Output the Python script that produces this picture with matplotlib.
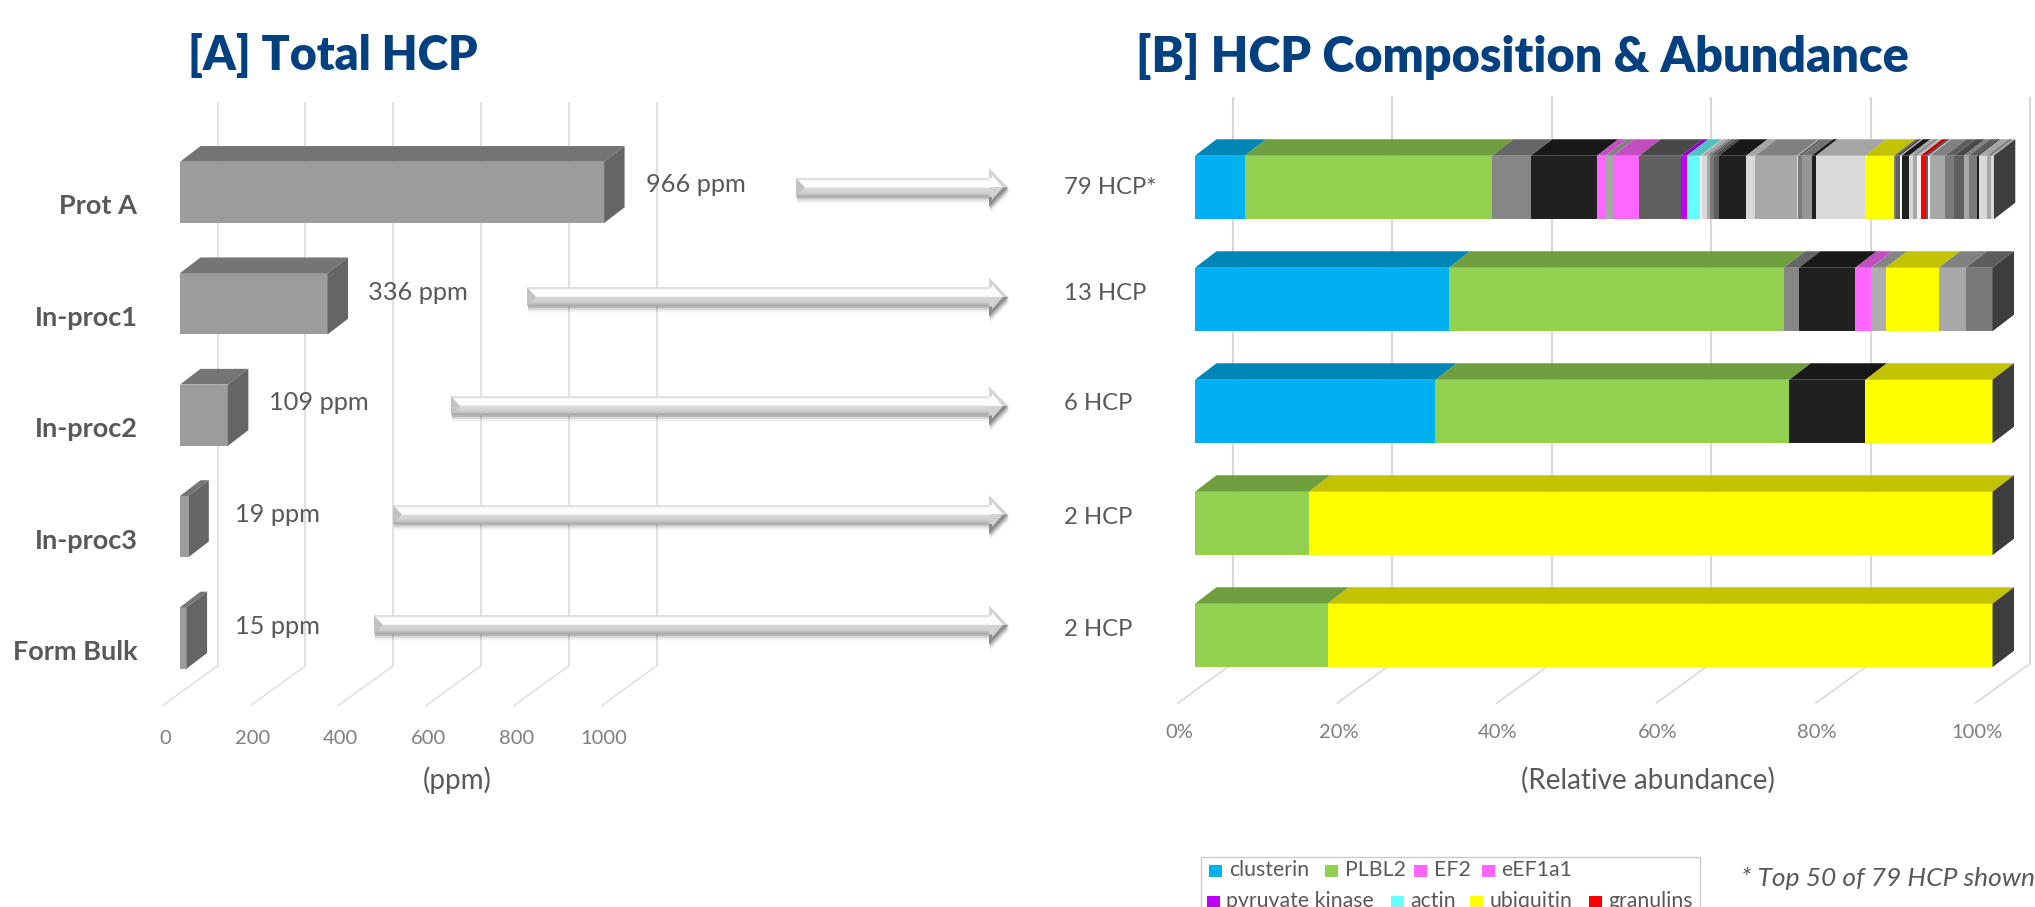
#!/usr/bin/env python3
import numpy as np
import matplotlib
matplotlib.use('Agg')
import matplotlib.pyplot as plt
from matplotlib.colors import to_rgb, LinearSegmentedColormap
from matplotlib.patches import Polygon, Rectangle

plt.rcParams['font.family'] = ['Lato', 'DejaVu Sans']

W, H = 2035, 907

# [A] total HCP
samples = ['Prot A', 'In-proc1', 'In-proc2', 'In-proc3', 'Form Bulk']
total_ppm = [966, 336, 109, 19, 15]
ppm_ticks = [0, 200, 400, 600, 800, 1000]

# [B] composition
hcp_labels = ['79 HCP*', '13 HCP', '6 HCP', '2 HCP', '2 HCP']
pct_ticks = [0, 20, 40, 60, 80, 100]

BLUE, GREEN, MAG, PURP, CYAN, YEL, RED = '#00b0f0', '#92d050', '#ff66ff', '#bf00ff', '#66ffff', '#ffff00', '#ff0000'
BLK, G5, G7, G8, G9, GA, GD, WHT = '#202020', '#5f5f5f', '#7a7a7a', '#868686', '#969696', '#a8a8a8', '#d9d9d9', '#f2f2f2'

bar1_widths = [6.23, 31.0, 4.88, 8.28, 1.09, 0.93, 3.28, 5.26, 0.72, 1.68, 0.21, 0.63, 0.42, 0.5, 0.55,
               3.45, 1.14, 5.22, 0.17, 0.42, 1.26, 0.55, 6.14, 3.66, 0.29, 0.42, 0.21, 0.93, 0.55, 0.42,
               0.5, 0.63, 0.34, 0.21, 1.89, 1.14, 1.18, 0.63, 1.05, 0.21, 1.05, 0.55, 0.29]
bar1_colors = [BLUE, GREEN, G8, BLK, MAG, GA, MAG, G5, PURP, CYAN, WHT, GD, GA, G7, G5,
               BLK, GD, GA, GD, G7, G9, BLK, GD, YEL, G7, G5, WHT, BLK, GD, GA,
               WHT, RED, G5, WHT, GA, G7, G5, GA, G7, BLK, GD, GA, GD]
bar2_widths = [31.84, 41.96, 1.91, 7.08, 1.98, 1.84, 6.65, 3.40, 3.34]
bar2_colors = [BLUE, GREEN, G8, BLK, MAG, '#aeaeae', YEL, GA, G7]
bar3_widths = [30.15, 44.37, 9.55, 15.93]
bar3_colors = [BLUE, GREEN, BLK, YEL]
bar4_widths = [14.29, 85.71]
bar4_colors = [GREEN, YEL]
bar5_widths = [16.63, 83.37]
bar5_colors = [GREEN, YEL]

legend_row1 = ['clusterin', 'PLBL2', 'EF2', 'eEF1a1']
legend_row1_colors = [BLUE, GREEN, MAG, MAG]
legend_row2 = ['pyruvate kinase', 'actin', 'ubiquitin', 'granulins']
legend_row2_colors = [PURP, CYAN, YEL, RED]

TXT = '#595959'
GRID = '#d9d9d9'


def shade(c, f=0.76):
    return tuple(v * f for v in to_rgb(c))


def pixel_axes(x0, x1, y0, y1):
    a = fig.add_axes([x0 / W, 1 - y1 / H, (x1 - x0) / W, (y1 - y0) / H], zorder=1)
    a.patch.set_alpha(0)
    a.axis('off')
    return a


def walls(a, ticks, sx, sy, lw):
    # back wall line and floor line for every tick, px offsets from front plane
    for t in ticks:
        a.plot([t + 37.5 / sx] * 2, [-0.8, 4.25], color=GRID, lw=lw, zorder=1, clip_on=False)
        a.plot([t + 37.5 / sx, t - 17 / sx], [4.25, 4.25 + 39.5 / sy], color=GRID, lw=lw * 0.8,
               zorder=1, clip_on=False)


fig = plt.figure(figsize=(W / 100, H / 100), dpi=100)

# ---- panel A
PPM_PX = 0.439
ROW_A = 111.4
ax1 = pixel_axes(180, 180 + PPM_PX * 1100, 192.4 - ROW_A / 2, 192.4 + 4.5 * ROW_A)
ax1.set_xlim(0, 1100)
ax1.set_ylim(4.5, -0.5)
walls(ax1, ppm_ticks, PPM_PX, ROW_A, 1.1)

hA = 61.3 / ROW_A
dxA, dyA = 20.5 / PPM_PX, 15.7 / ROW_A
for i, v in enumerate(total_ppm):
    ax1.barh(i, v, height=hA, color='#9c9c9c', zorder=3)
    t, b = i - hA / 2, i + hA / 2
    ax1.fill([0, v, v + dxA, dxA], [t, t, t - dyA, t - dyA], color='#757575', lw=0, zorder=3, clip_on=False)
    ax1.fill([v, v + dxA, v + dxA, v], [t, t - dyA, b - dyA, b], color='#656565', lw=0, zorder=3, clip_on=False)
    ax1.text(-97, i + 0.125, samples[i], ha='right', va='center', fontsize=19.5, fontweight='bold', color=TXT)
for t in ppm_ticks:
    ax1.text(t - 34, 4.905, str(t), ha='center', va='center', fontsize=14.5, color='#7f7f7f', clip_on=False)

# ---- panel B
PCT_PX = 7.975
ROW_B = 112.0
ax2 = pixel_axes(1195, 1992.5, 187.5 - ROW_B / 2, 187.5 + 4.5 * ROW_B)
ax2.set_xlim(0, 100)
ax2.set_ylim(4.5, -0.5)
walls(ax2, pct_ticks, PCT_PX, ROW_B, 1.5)

hB = 63.5 / ROW_B
dxB, dyB = 21.5 / PCT_PX, 16.5 / ROW_B
rows = [(bar1_widths, bar1_colors), (bar2_widths, bar2_colors), (bar3_widths, bar3_colors),
        (bar4_widths, bar4_colors), (bar5_widths, bar5_colors)]
for i, (widths, colors) in enumerate(rows):
    t, b = i - hB / 2, i + hB / 2
    left = 0.0
    for w, c in zip(widths, colors):
        ax2.barh(i, w, left=left, height=hB, color=c, lw=0, zorder=3)
        ax2.fill([left, left + w, left + w + dxB, left + dxB], [t, t, t - dyB, t - dyB],
                 color=shade(c), lw=0, zorder=3, clip_on=False)
        left += w
    ax2.fill([left, left + dxB, left + dxB, left], [t, t - dyB, b - dyB, b], color='#3d3d3d', lw=0,
             zorder=3, clip_on=False)
for t in pct_ticks:
    ax2.text(t - 2, 4.87, '%d%%' % t, ha='center', va='center', fontsize=14.5, color='#7f7f7f', clip_on=False)

# ---- overlay in pixels: titles, labels, arrows, legend
ov = fig.add_axes([0, 0, 1, 1], zorder=2)
ov.patch.set_alpha(0)
ov.axis('off')
ov.set_xlim(0, W)
ov.set_ylim(H, 0)

NAVY = '#03407f'
ov.text(188, 56, '[A] Total HCP', fontsize=33.5, fontweight='heavy', color=NAVY, va='center')
ov.text(1136, 56, '[B] HCP Composition & Abundance', fontsize=35, fontweight='heavy', color=NAVY, va='center')
ov.text(457, 780, '(ppm)', ha='center', va='center', fontsize=20, color=TXT)
ov.text(1648, 780, '(Relative abundance)', ha='center', va='center', fontsize=20, color=TXT)

value_x = [646, 368, 269, 235, 235]
value_y = [184, 292, 403, 515, 626]
for x, y, v in zip(value_x, value_y, total_ppm):
    ov.text(x, y, '%d ppm' % v, va='center', fontsize=18.3, color=TXT)
hcp_y = [188, 294, 404, 517, 629]
for y, s in zip(hcp_y, hcp_labels):
    ov.text(1064, y, s, va='center', fontsize=17.2, color=TXT)

grad = LinearSegmentedColormap.from_list('arrow', [(0, '#dcdcdc'), (0.1, '#e8e8e8'), (0.16, '#ffffff'), (0.5, '#fafafa'),
                                                    (0.53, '#dadada'), (0.8, '#cfcfcf'), (1, '#a8a8a8')])


def arrow(x0, yc):
    x1, xh = 1008, 989
    hs, hh = 9.5, 19.5
    pts = [(x0, yc - hs), (xh, yc - hs), (xh, yc - hh), (x1, yc), (xh, yc + hh), (xh, yc + hs), (x0, yc + hs)]
    # soft shadow
    for off, al in [(1.5, 0.22), (3.5, 0.14), (6, 0.07)]:
        ov.add_patch(Polygon([(x + 1, y + off) for x, y in pts], fc='#404040', ec='none', alpha=al, zorder=4))
    ov.imshow(np.linspace(0, 1, 64)[:, None], cmap=grad, extent=(x0, xh + 3, yc + hs, yc - hs), aspect='auto', zorder=5)
    # head faces and rims
    ov.add_patch(Polygon([(xh, yc - hh), (x1, yc), (xh, yc)], fc='#fbfbfb', ec='none', zorder=6))
    ov.add_patch(Polygon([(xh, yc), (x1, yc), (xh, yc + hh)], fc='#d2d2d2', ec='none', zorder=6))
    ov.add_patch(Polygon([(xh, yc - hh), (x1, yc), (x1 - 5, yc), (xh + 3, yc - hh + 7), (xh + 3, yc - hs), (xh, yc - hs)],
                         fc='#d4d4d4', ec='none', zorder=7))
    ov.add_patch(Polygon([(xh, yc + hh), (x1, yc), (x1 - 5, yc), (xh + 3, yc + hh - 7), (xh + 3, yc + hs), (xh, yc + hs)],
                         fc='#8c8c8c', ec='none', zorder=7))
    # square tail bevel
    ov.add_patch(Polygon([(x0, yc - hs), (x0 + 9, yc), (x0, yc + hs)], fc='#c2c2c2', ec='none', zorder=7))
    ov.set_xlim(0, W)
    ov.set_ylim(H, 0)


arrow_x = [796, 527, 451, 393, 374]
arrow_y = [187.5, 297, 406, 514.5, 625]
for x, y in zip(arrow_x, arrow_y):
    arrow(x, y)

# legend (cut by the lower edge of the picture, as in the original)
ov.add_patch(Rectangle((1201, 857), 499, 80, fc='white', ec='#cccccc', lw=1, zorder=3))
row1_sq = [1209, 1325, 1414, 1482]
row1_tx = [1229, 1345, 1434, 1501]
row2_sq = [1207, 1391, 1470, 1589]
row2_tx = [1226, 1410, 1490, 1608]
for names, cols, sq, tx, yc in [(legend_row1, legend_row1_colors, row1_sq, row1_tx, 871),
                                (legend_row2, legend_row2_colors, row2_sq, row2_tx, 902)]:
    for n, c, s, x in zip(names, cols, sq, tx):
        ov.add_patch(Rectangle((s, yc - 6), 13, 12, fc=c, ec='none', zorder=4))
        ov.text(x, yc - 1, n, va='center', fontsize=15.3, color=TXT, zorder=4)
ov.text(1741, 878, '* Top 50 of 79 HCP shown', va='center', fontsize=19, style='italic', color=TXT)

fig.savefig('out.png', dpi=100)
